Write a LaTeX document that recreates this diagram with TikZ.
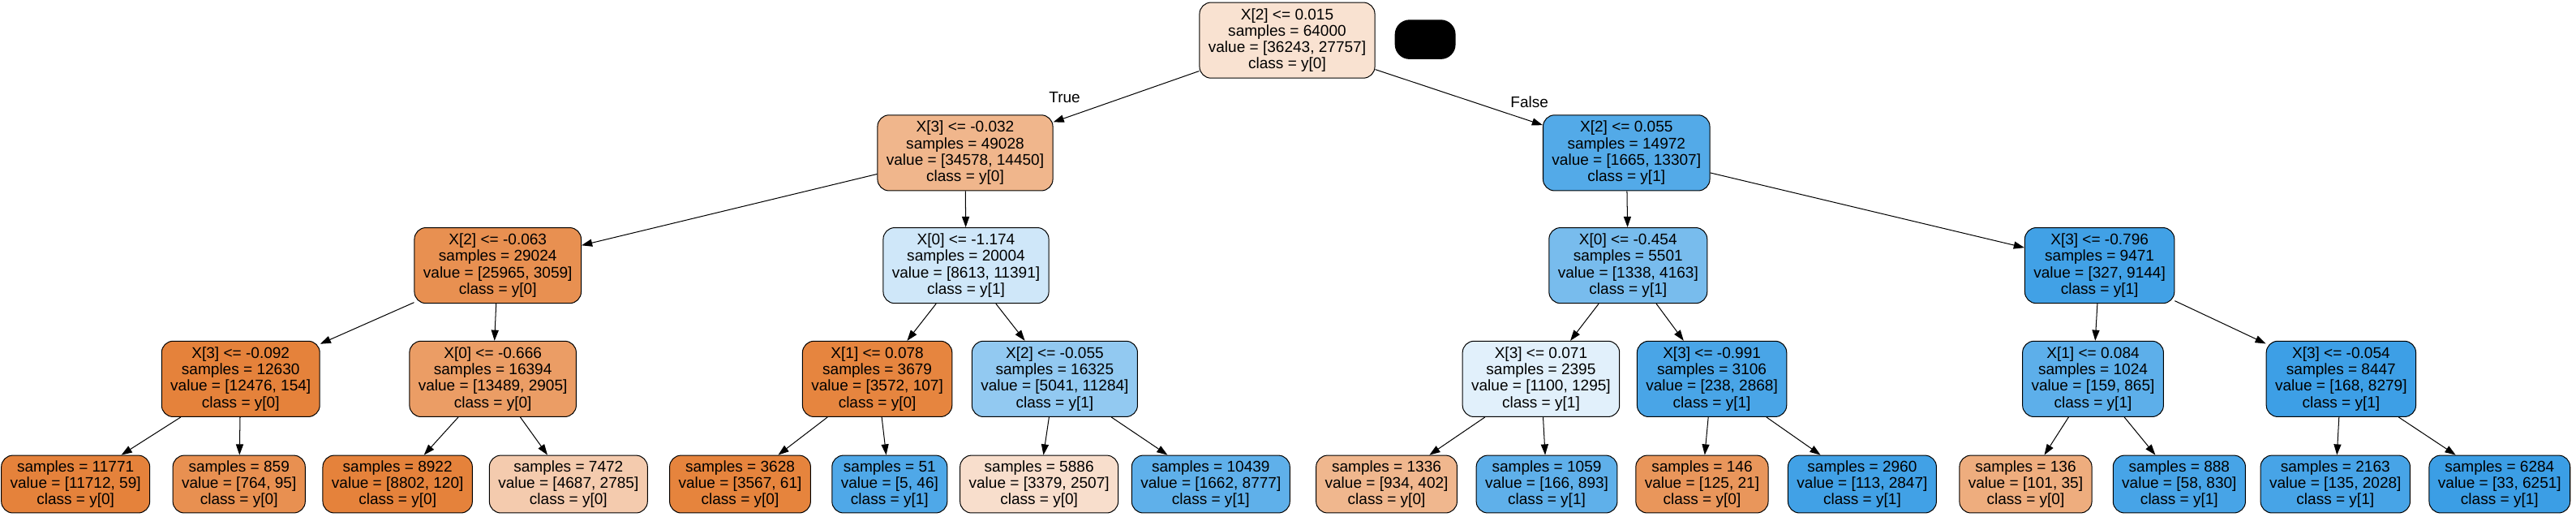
\documentclass[tikz,border=0pt]{standalone}
\usepackage{fontspec}
\setmainfont{Liberation Sans}
\usetikzlibrary{arrows.meta}
\definecolor{yzero}{RGB}{229,129,57}
\definecolor{yone}{RGB}{57,157,229}

\begin{document}
\begin{tikzpicture}[x=1pt, y=-1pt,
    treenode/.style={draw, line width=0.5pt, rounded corners=7pt, align=center,
        font=\fontsize{9.4}{10}\selectfont, inner xsep=5.4pt, inner ysep=0pt,
        minimum height=46pt},
    leafnode/.style={treenode, minimum height=35pt},
    arr/.style={-{Triangle[length=6.5pt,width=4.5pt]}, line width=0.5pt},
    lbl/.style={font=\fontsize{9.4}{10}\selectfont, inner sep=0pt}]
    \useasboundingbox (0,0) rectangle (1568,314);

    \node[treenode, fill=yzero!23!white] (root) at (783.5,24.5)
        {X[2] <= 0.015\\samples = 64000\\value = [36243, 27757]\\class = y[0]};
    \node[fill=black, rounded corners=9pt, minimum width=37pt, minimum height=24pt,
        inner sep=0pt] (mask) at (867.5,24) {};

    \node[treenode, fill=yzero!58!white] (l) at (587.5,93)
        {X[3] <= -0.032\\samples = 49028\\value = [34578, 14450]\\class = y[0]};
    \node[treenode, fill=yone!87!white] (r) at (990,93)
        {X[2] <= 0.055\\samples = 14972\\value = [1665, 13307]\\class = y[1]};

    \node[treenode, fill=yzero!88!white] (ll) at (303,161.5)
        {X[2] <= -0.063\\samples = 29024\\value = [25965, 3059]\\class = y[0]};
    \node[treenode, fill=yone!24!white] (lr) at (588,161.5)
        {X[0] <= -1.174\\samples = 20004\\value = [8613, 11391]\\class = y[1]};
    \node[treenode, fill=yone!68!white] (rl) at (991,161.5)
        {X[0] <= -0.454\\samples = 5501\\value = [1338, 4163]\\class = y[1]};
    \node[treenode, fill=yone!96!white] (rr) at (1278,161.5)
        {X[3] <= -0.796\\samples = 9471\\value = [327, 9144]\\class = y[1]};

    \node[treenode, fill=yzero!99!white] (lll) at (146.5,230.5)
        {X[3] <= -0.092\\samples = 12630\\value = [12476, 154]\\class = y[0]};
    \node[treenode, fill=yzero!78!white] (llr) at (300,230.5)
        {X[0] <= -0.666\\samples = 16394\\value = [13489, 2905]\\class = y[0]};
    \node[treenode, fill=yzero!97!white] (lrl) at (534,230.5)
        {X[1] <= 0.078\\samples = 3679\\value = [3572, 107]\\class = y[0]};
    \node[treenode, fill=yone!55!white] (lrr) at (642,230.5)
        {X[2] <= -0.055\\samples = 16325\\value = [5041, 11284]\\class = y[1]};
    \node[treenode, fill=yone!15!white] (rll) at (938,230.5)
        {X[3] <= 0.071\\samples = 2395\\value = [1100, 1295]\\class = y[1]};
    \node[treenode, fill=yone!92!white] (rlr) at (1042,230.5)
        {X[3] <= -0.991\\samples = 3106\\value = [238, 2868]\\class = y[1]};
    \node[treenode, fill=yone!82!white] (rrl) at (1274,230.5)
        {X[1] <= 0.084\\samples = 1024\\value = [159, 865]\\class = y[1]};
    \node[treenode, fill=yone!98!white] (rrr) at (1425,230.5)
        {X[3] <= -0.054\\samples = 8447\\value = [168, 8279]\\class = y[1]};

    \node[leafnode, fill=yzero!99!white] (llll) at (46,294.5)
        {samples = 11771\\value = [11712, 59]\\class = y[0]};
    \node[leafnode, fill=yzero!88!white] (lllr) at (145.5,294.5)
        {samples = 859\\value = [764, 95]\\class = y[0]};
    \node[leafnode, fill=yzero!99!white] (llrl) at (242,294.5)
        {samples = 8922\\value = [8802, 120]\\class = y[0]};
    \node[leafnode, fill=yzero!41!white] (llrr) at (346,294.5)
        {samples = 7472\\value = [4687, 2785]\\class = y[0]};
    \node[leafnode, fill=yzero!98!white] (lrll) at (450.5,294.5)
        {samples = 3628\\value = [3567, 61]\\class = y[0]};
    \node[leafnode, fill=yone!89!white] (lrlr) at (541.5,294.5)
        {samples = 51\\value = [5, 46]\\class = y[1]};
    \node[leafnode, fill=yzero!26!white] (lrrl) at (632.5,294.5)
        {samples = 5886\\value = [3379, 2507]\\class = y[0]};
    \node[leafnode, fill=yone!81!white] (lrrr) at (737,294.5)
        {samples = 10439\\value = [1662, 8777]\\class = y[1]};
    \node[leafnode, fill=yzero!57!white] (rlll) at (844,294.5)
        {samples = 1336\\value = [934, 402]\\class = y[0]};
    \node[leafnode, fill=yone!81!white] (rllr) at (941.5,294.5)
        {samples = 1059\\value = [166, 893]\\class = y[1]};
    \node[leafnode, fill=yzero!83!white] (rlrl) at (1036,294.5)
        {samples = 146\\value = [125, 21]\\class = y[0]};
    \node[leafnode, fill=yone!96!white] (rlrr) at (1133.5,294.5)
        {samples = 2960\\value = [113, 2847]\\class = y[1]};
    \node[leafnode, fill=yzero!65!white] (rrll) at (1233,294.5)
        {samples = 136\\value = [101, 35]\\class = y[0]};
    \node[leafnode, fill=yone!93!white] (rrlr) at (1326.5,294.5)
        {samples = 888\\value = [58, 830]\\class = y[1]};
    \node[leafnode, fill=yone!93!white] (rrrl) at (1421.5,294.5)
        {samples = 2163\\value = [135, 2028]\\class = y[1]};
    \node[leafnode, fill=yone!99!white] (rrrr) at (1521.5,294.5)
        {samples = 6284\\value = [33, 6251]\\class = y[1]};

    \node[lbl] (true) at (648,59.5) {True};
    \node[lbl] (false) at (931,62) {False};

    \draw[arr] (root) edge (l) edge (r);
    \draw[arr] (l) edge (ll) edge (lr);
    \draw[arr] (r) edge (rl) edge (rr);
    \draw[arr] (ll) edge (lll) edge (llr);
    \draw[arr] (lr) edge (lrl) edge (lrr);
    \draw[arr] (rl) edge (rll) edge (rlr);
    \draw[arr] (rr) edge (rrl) edge (rrr);
    \draw[arr] (lll) edge (llll) edge (lllr);
    \draw[arr] (llr) edge (llrl) edge (llrr);
    \draw[arr] (lrl) edge (lrll) edge (lrlr);
    \draw[arr] (lrr) edge (lrrl) edge (lrrr);
    \draw[arr] (rll) edge (rlll) edge (rllr);
    \draw[arr] (rlr) edge (rlrl) edge (rlrr);
    \draw[arr] (rrl) edge (rrll) edge (rrlr);
    \draw[arr] (rrr) edge (rrrl) edge (rrrr);
\end{tikzpicture}
\end{document}
